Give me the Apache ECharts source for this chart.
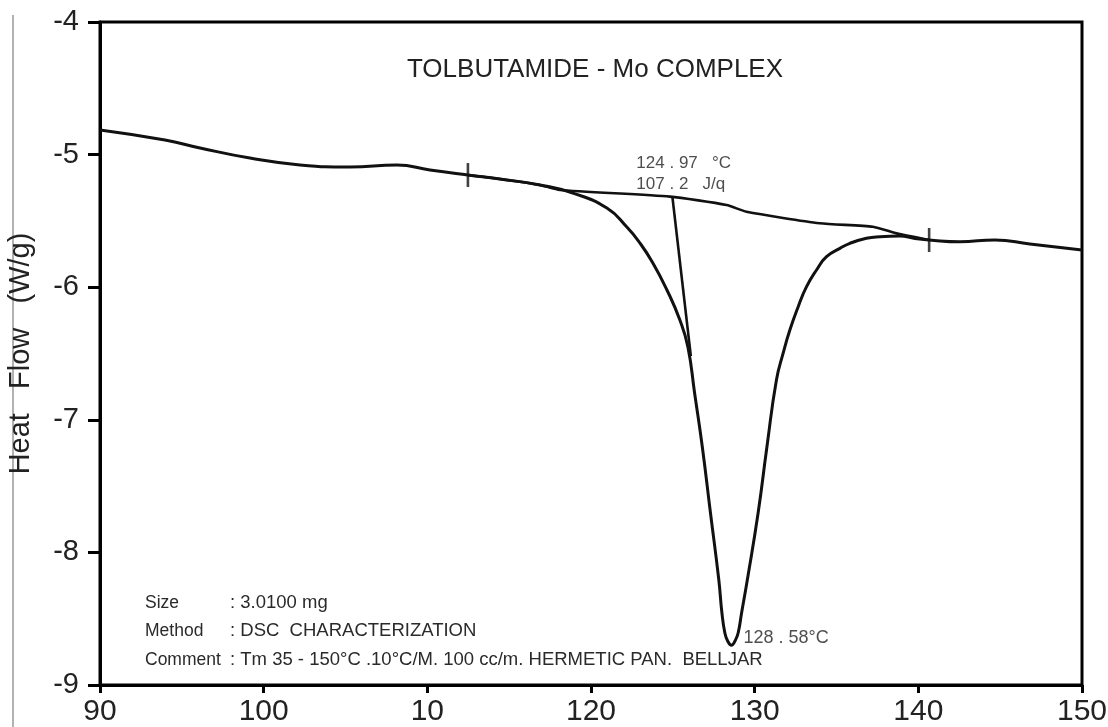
<!DOCTYPE html>
<html>
<head>
<meta charset="utf-8">
<title>TOLBUTAMIDE - Mo COMPLEX</title>
<script src="https://cdn.jsdelivr.net/npm/echarts@6/dist/echarts.min.js"></script>
<style>
  html, body { margin: 0; padding: 0; background: #fff; }
  #chart { width: 1108px; height: 727px; }
</style>
</head>
<body>
<div id="chart"></div>
<script>
// DSC heating scan: temperature (°C) vs heat flow (W/g)
const temperature = [
  90.00, 93.97, 96.11, 99.16, 102.22, 105.27, 108.14, 110.16, 112.48, 114.43,
  116.88, 118.89, 120.97, 122.19, 122.99, 123.78, 124.64, 125.43, 125.92, 126.33,
  126.80, 127.30, 127.81, 128.00, 128.18, 128.35, 128.58, 128.80, 128.99, 129.20,
  129.55, 130.21, 130.75, 131.33, 131.74, 132.15, 132.66, 133.17, 133.78, 134.39,
  135.21, 135.82, 136.83, 137.65, 138.87, 139.79, 140.66, 142.54, 144.67, 146.81,
  150.00
];
const heatFlow = [
  -4.814, -4.890, -4.950, -5.026, -5.078, -5.094, -5.078, -5.116, -5.154, -5.184,
  -5.229, -5.290, -5.403, -5.546, -5.667, -5.817, -6.021, -6.247, -6.451, -6.798,
  -7.203, -7.703, -8.208, -8.457, -8.608, -8.668, -8.700, -8.668, -8.608, -8.457,
  -8.208, -7.703, -7.203, -6.700, -6.498, -6.323, -6.147, -5.996, -5.870, -5.770,
  -5.707, -5.669, -5.631, -5.619, -5.614, -5.633, -5.644, -5.657, -5.644, -5.674,
  -5.719
];

// Integration baseline between the two limit marks
const baselineT  = [112.48, 114.43, 116.88, 118.10, 124.82, 128.28, 129.50, 133.98, 137.22, 138.67, 140.66];
const baselineHF = [-5.154, -5.184, -5.229, -5.267, -5.317, -5.380, -5.431, -5.518, -5.544, -5.594, -5.644];
const limitT  = [112.48, 140.66];
const limitHF = [-5.154, -5.644];

// Onset tangent, extrapolated to the baseline
const tangentT  = [124.97, 126.10];
const tangentHF = [-5.315, -6.520];

// Results
const onsetTemp = 124.97;
const onsetHF = -5.315;
const enthalpy = 107.2;
const peakTemp = 128.58;
const peakHF = -8.70;

const xTickLabels = ['90', '100', '10', '120', '130', '140', '150'];
const yTickLabels = ['-9', '-8', '-7', '-6', '-5', '-4'];

const infoLines = [
  ['Size', ': 3.0100 mg'],
  ['Method', ': DSC  CHARACTERIZATION'],
  ['Comment', ': Tm 35 - 150°C .10°C/M. 100 cc/m. HERMETIC PAN.  BELLJAR']
];

const FONT = '"Liberation Sans", Arial, sans-serif';
const zip = (a, b) => a.map((v, i) => [v, b[i]]);
const spaced = v => String(v).replace('.', ' . ');

const chart = echarts.init(document.getElementById('chart'));

const infoGraphics = [];
infoLines.forEach((ln, i) => {
  infoGraphics.push({
    type: 'text', left: 145, top: 594 + i * 28.5,
    style: { text: ln[0], font: '17.5px ' + FONT, fill: '#2a2a2a' }
  });
  infoGraphics.push({
    type: 'text', left: 230, top: 593 + i * 28.5,
    style: { text: ln[1], font: '18.5px ' + FONT, fill: '#2a2a2a' }
  });
});

chart.setOption({
  animation: false,
  backgroundColor: '#fff',
  title: {
    text: 'TOLBUTAMIDE - Mo COMPLEX',
    left: 590, top: 52, textAlign: 'center',
    textStyle: { fontFamily: FONT, fontSize: 26, fontWeight: 'normal', color: '#222' }
  },
  grid: {
    left: 100, right: 26, top: 22, bottom: 42,
    containLabel: false, outerBoundsMode: 'none',
    show: true, borderColor: '#000', borderWidth: 3
  },
  xAxis: {
    type: 'value', min: 90, max: 150, interval: 10,
    axisLine: { lineStyle: { color: '#000', width: 3 } },
    axisTick: { inside: false, length: 8, lineStyle: { color: '#000', width: 3 } },
    axisLabel: {
      margin: 12, fontFamily: FONT, fontSize: 30, color: '#222',
      formatter: v => xTickLabels[Math.round((v - 90) / 10)]
    },
    splitLine: { show: false }
  },
  yAxis: {
    type: 'value', min: -9, max: -4, interval: 1,
    name: 'Heat   Flow   (W/g)', nameLocation: 'middle', nameGap: 65,
    nameTextStyle: { fontFamily: FONT, fontSize: 29, color: '#222' },
    axisLine: { lineStyle: { color: '#000', width: 3 } },
    axisTick: { inside: false, length: 12, lineStyle: { color: '#000', width: 3 } },
    axisLabel: {
      margin: 21, fontFamily: FONT, fontSize: 29, color: '#222',
      formatter: v => yTickLabels[Math.round(v + 9)]
    },
    splitLine: { show: false }
  },
  graphic: [
    { type: 'line', shape: { x1: 13, y1: 15, x2: 13, y2: 727 }, style: { stroke: '#999', lineWidth: 1.5 } }
  ].concat(infoGraphics),
  series: [
    {
      type: 'line', name: 'Heat Flow', data: zip(temperature, heatFlow),
      smooth: 0.5, showSymbol: false,
      lineStyle: { color: '#111', width: 3 }
    },
    {
      type: 'line', name: 'Baseline', data: zip(baselineT, baselineHF),
      smooth: 0.2, showSymbol: false,
      lineStyle: { color: '#111', width: 2.6 }
    },
    {
      type: 'line', name: 'Onset', data: zip(tangentT, tangentHF),
      showSymbol: false, lineStyle: { color: '#111', width: 2.6 }
    },
    {
      type: 'scatter', name: 'Limits', data: zip(limitT, limitHF),
      symbol: 'rect', symbolSize: [2.6, 24], itemStyle: { color: '#111' }
    },
    {
      type: 'scatter', name: 'Onset label', data: [[onsetTemp, onsetHF]],
      symbolSize: 0,
      label: {
        show: true, position: 'top', distance: 2, align: 'left', offset: [-36, 0],
        fontFamily: FONT, fontSize: 17, lineHeight: 21, color: '#222',
        formatter: () => spaced(onsetTemp.toFixed(2)) + '   °C\n' + spaced(enthalpy.toFixed(1)) + '   J/q'
      }
    },
    {
      type: 'scatter', name: 'Peak label', data: [[peakTemp, peakHF]],
      symbolSize: 0,
      label: {
        show: true, position: 'right', distance: 12, offset: [0, -7],
        fontFamily: FONT, fontSize: 18, color: '#222',
        formatter: () => spaced(peakTemp.toFixed(2)) + '°C'
      }
    }
  ]
});
</script>
</body>
</html>
